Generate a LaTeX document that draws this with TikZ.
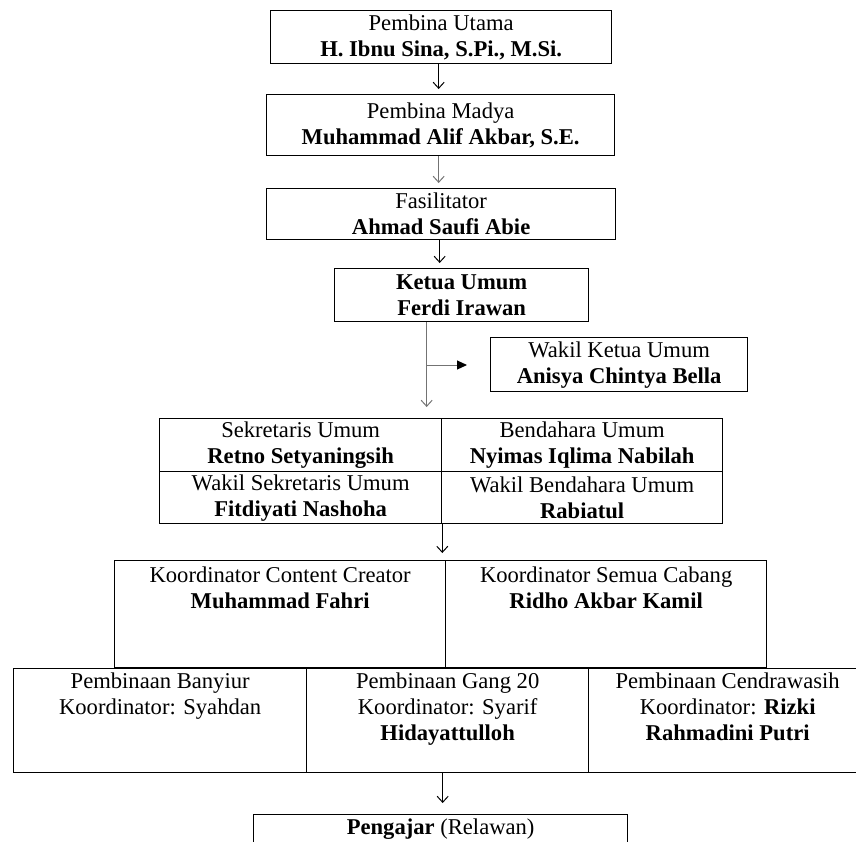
\documentclass[tikz,border=0pt]{standalone}
\usepackage{fontspec}
\setmainfont{Liberation Serif}
\usetikzlibrary{arrows.meta}
\begin{document}
\begin{tikzpicture}[x=1pt,y=1pt,
  fnt/.style={font=\fontsize{22.6}{26}\selectfont},
  box/.style={draw, line width=1.3pt, inner sep=0pt, anchor=north west, align=center, fnt},
  txt/.style={inner sep=0pt, align=center, anchor=north, fnt},
  arr/.style={-{Straight Barb[length=6pt,width=11pt,line width=1pt]}, line width=1pt},
  garr/.style={arr, draw=black!55},
  tri/.style={-{Triangle[length=10pt,width=9pt,fill=black,color=black]}, line width=1pt, draw=black!55}]
\useasboundingbox (0,0) rectangle (856,-841);
\clip (0,0) rectangle (856,-841);

% top chain
\node[box, minimum width=341pt, minimum height=53pt] (b1) at (270,-10)
  {Pembina Utama\\\textbf{H. Ibnu Sina, S.Pi., M.Si.}};
\node[box, minimum width=348pt, minimum height=61pt] (b2) at (266,-94)
  {Pembina Madya\\\textbf{Muhammad Alif Akbar, S.E.}};
\node[box, minimum width=349pt, minimum height=51pt] (b3) at (266,-188)
  {Fasilitator\\\textbf{Ahmad Saufi Abie}};
\node[box, minimum width=254pt, minimum height=53pt] (ketua) at (334,-268)
  {\textbf{Ketua Umum}\\\textbf{Ferdi Irawan}};
\node[box, minimum width=257pt, minimum height=54pt] (wakil) at (490,-337)
  {Wakil Ketua Umum\\\textbf{Anisya Chintya Bella}};

% secretariat table
\node[box, minimum width=282pt, minimum height=53pt] (sek) at (159,-418)
  {Sekretaris Umum\\\textbf{Retno Setyaningsih}};
\node[box, minimum width=281pt, minimum height=53pt] (bend) at (441,-418)
  {Bendahara Umum\\\textbf{Nyimas Iqlima Nabilah}};
\node[box, minimum width=282pt, minimum height=52pt] (wsek) at (159,-471)
  {Wakil Sekretaris Umum\\\textbf{Fitdiyati Nashoha}};
\node[box, minimum width=281pt, minimum height=52pt] (wbend) at (441,-471)
  {Wakil Bendahara Umum\\\textbf{Rabiatul}};

% coordinators
\node[box, minimum width=331pt, minimum height=107pt] (kcc) at (114,-560) {};
\node[box, minimum width=321pt, minimum height=107pt] (kcab) at (445,-560) {};
\node[txt] (kcct) at ([yshift=-7pt]kcc.north) {Koordinator Content Creator\\\textbf{Muhammad Fahri}};
\node[txt] (kcabt) at ([yshift=-7pt]kcab.north) {Koordinator Semua Cabang\\\textbf{Ridho Akbar Kamil}};

% branches
\node[box, minimum width=293pt, minimum height=104pt] (pb1) at (13,-668) {};
\node[box, minimum width=282pt, minimum height=104pt] (pb2) at (306,-668) {};
\node[box, minimum width=278pt, minimum height=104pt] (pb3) at (588,-668) {};
\node[txt] (pb1t) at ([yshift=-5pt]pb1.north) {Pembinaan Banyiur\\Koordinator: Syahdan};
\node[txt] (pb2t) at ([yshift=-5pt]pb2.north) {Pembinaan Gang 20\\Koordinator: Syarif\\\textbf{Hidayattulloh}};
\node[txt] (pb3t) at ([yshift=-5pt]pb3.north) {Pembinaan Cendrawasih\\Koordinator: \textbf{Rizki}\\\textbf{Rahmadini Putri}};

% volunteers
\node[box, minimum width=374pt, minimum height=60pt] (peng) at (253,-814) {};
\node[txt] (pengt) at ([yshift=-5pt]peng.north) {\textbf{Pengajar} (Relawan)};

% connectors
\draw[arr, shorten >=5pt] ([xshift=-2.5pt]b1.south) -- ([xshift=-2.5pt]b1.south |- b2.north);
\draw[garr, shorten >=5pt] ([xshift=-2pt]b2.south) -- ([xshift=-2pt]b2.south |- b3.north);
\draw[arr, shorten >=5pt] ([xshift=-1.5pt]b3.south) -- ([xshift=-1.5pt]b3.south |- ketua.north);
\coordinate (kbr) at ([xshift=-35pt]ketua.south |- 0,-365);
\coordinate (kend) at ([xshift=-35pt]ketua.south |- 0,-407);
\draw[garr] ([xshift=-35pt]ketua.south) -- (kend);
\draw[tri, shorten >=23pt] (kbr) -- (kbr -| wakil.west);
\draw[arr, shorten >=7pt] (wsek.south east) -- (wsek.south east |- kcc.north);
\draw[arr, shorten >=11pt] ([xshift=-5pt]pb2.south) -- ([xshift=-5pt]pb2.south |- peng.north);
\end{tikzpicture}
\end{document}
